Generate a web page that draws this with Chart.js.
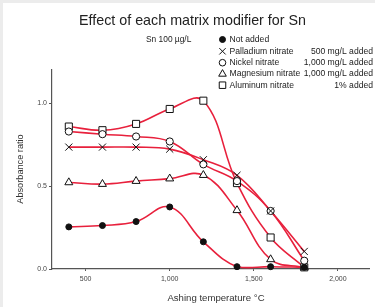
<!DOCTYPE html>
<html>
<head>
<meta charset="utf-8">
<script src="https://cdn.jsdelivr.net/npm/chart.js@4"></script>
<style>
html,body{margin:0;padding:0;background:#fff;}
#wrap{position:relative;width:375px;height:307px;}
</style>
</head>
<body>
<div id="wrap"><canvas id="c" width="375" height="307"></canvas></div>
<script>
const temperatures = [400, 600, 800, 1000, 1200, 1400, 1600, 1800];
const notAdded   = [0.254, 0.262, 0.286, 0.374, 0.164, 0.014, 0.014, 0.010];
const palladium  = [0.735, 0.735, 0.735, 0.723, 0.659, 0.565, 0.350, 0.106];
const nickel     = [0.829, 0.813, 0.799, 0.769, 0.631, 0.530, 0.350, 0.050];
const magnesium  = [0.522, 0.512, 0.530, 0.545, 0.566, 0.354, 0.058, 0.010];
const aluminum   = [0.859, 0.837, 0.875, 0.965, 1.015, 0.518, 0.190, 0.010];
const seriesNames = ["Not added", "Palladium nitrate", "Nickel nitrate", "Magnesium nitrate", "Aluminum nitrate"];
const seriesAmounts = ["", "500 mg/L added", "1,000 mg/L added", "1,000 mg/L added", "1% added"];
const xTicks = [500, 1000, 1500, 2000];
const yTicks = [0, 0.5, 1.0];
const titleText = "Effect of each matrix modifier for Sn";
const subText = "Sn 100 µg/L";
const xTitle = "Ashing temperature °C";
const yTitle = "Absorbance ratio";

const LINE = '#e8203c';
const FONT = '"Liberation Sans", Arial, sans-serif';
const allSeries = [notAdded, palladium, nickel, magnesium, aluminum];
const styles = [
  {pointStyle:'circle', radius:3, bg:'#111', border:'#111', bw:1, lr:3},
  {pointStyle:'crossRot', radius:5, bg:'#fff', border:'#111', bw:1, lr:4.5},
  {pointStyle:'circle', radius:3.6, bg:'#fff', border:'#111', bw:1, lr:3.3},
  {pointStyle:'triangle', radius:4.6, bg:'#fff', border:'#111', bw:1, lr:4.4},
  {pointStyle:'rect', radius:5, bg:'#fff', border:'#111', bw:1, lr:4.6}
];

const toXY = arr => arr.map((v,i)=>({x:temperatures[i], y:v}));
const datasets = [];
allSeries.forEach((s,i)=>{
  datasets.push({label:seriesNames[i]+' line', data:toXY(s), borderColor:LINE, borderWidth:1.6,
    pointRadius:0, tension:0.4, fill:false, order:10, clip:false});
});
allSeries.forEach((s,i)=>{
  const st = styles[i];
  datasets.push({label:seriesNames[i], data:toXY(s), showLine:false, pointStyle:st.pointStyle,
    pointRadius:st.radius, pointBackgroundColor:st.bg, pointBorderColor:st.border,
    pointBorderWidth:st.bw, order:1, clip:false});
});

const decor = {
  id:'decor',
  beforeDraw(chart){
    const ctx = chart.ctx;
    ctx.save();
    ctx.fillStyle='#fff'; ctx.fillRect(0,0,375,307);
    ctx.fillStyle='#ececec'; ctx.fillRect(0,0,3,307); ctx.fillRect(0,0,375,3);
    ctx.restore();
  },
  afterDraw(chart){
    const ctx = chart.ctx;
    ctx.save();
    ctx.fillStyle='#222';
    ctx.textBaseline='middle';
    ctx.textAlign='center';
    ctx.font='14.3px '+FONT;
    ctx.fillText(titleText, 192.5, 21);
    ctx.font='8.4px '+FONT;
    ctx.textAlign='left';
    ctx.fillText(subText, 146, 40);
    ctx.font='8.6px '+FONT;
    const rows=[39.5, 51.3, 62.7, 74, 85.2];
    rows.forEach((y,i)=>{
      const st=styles[i];
      ctx.fillStyle=st.bg; ctx.strokeStyle=st.border; ctx.lineWidth=1;
      Chart.helpers.drawPoint(ctx,{pointStyle:st.pointStyle, radius:st.lr, rotation:0, borderWidth:1}, 222.5, y);
      ctx.fillStyle='#222';
      ctx.textAlign='left';
      ctx.fillText(seriesNames[i], 229.5, y);
      ctx.textAlign='right';
      if(seriesAmounts[i]) ctx.fillText(seriesAmounts[i], 373, y);
    });
    // axis titles
    ctx.fillStyle='#333';
    ctx.font='9.6px '+FONT;
    ctx.textAlign='center';
    ctx.fillText(xTitle, 216, 298);
    ctx.font='9.2px '+FONT;
    ctx.translate(20, 169);
    ctx.rotate(-Math.PI/2);
    ctx.fillText(yTitle, 0, 0);
    ctx.restore();
  }
};

new Chart(document.getElementById('c'), {
  type:'line',
  data:{datasets},
  options:{
    responsive:false, animation:false, devicePixelRatio:1,
    layout:{padding:{left:0, right:0, top:70, bottom:0}},
    plugins:{legend:{display:false}, tooltip:{enabled:false}, title:{display:false}},
    scales:{
      x:{type:'linear', min:300, max:2185,
        afterBuildTicks(scale){ scale.ticks = xTicks.map(v=>({value:v})); },
        afterFit(scale){ scale.height = 38; },
        grid:{display:true, drawOnChartArea:false, drawTicks:true, tickLength:2, color:'#555', lineWidth:1},
        border:{display:true, color:'#555', width:1.2},
        ticks:{color:'#444', font:{family:FONT, size:7}, padding:4, maxRotation:0,
          callback:v=>v.toLocaleString('en-US')}
      },
      y:{type:'linear', min:0, max:1.2,
        afterBuildTicks(scale){ scale.ticks = yTicks.map(v=>({value:v})); },
        afterFit(scale){ scale.width = 52; },
        grid:{display:true, drawOnChartArea:false, drawTicks:true, tickLength:3, color:'#555', lineWidth:1},
        border:{display:true, color:'#555', width:1.2},
        ticks:{color:'#444', font:{family:FONT, size:7}, padding:2,
          callback:v=>v.toFixed(1)}
      }
    }
  },
  plugins:[decor]
});
</script>
</body>
</html>
